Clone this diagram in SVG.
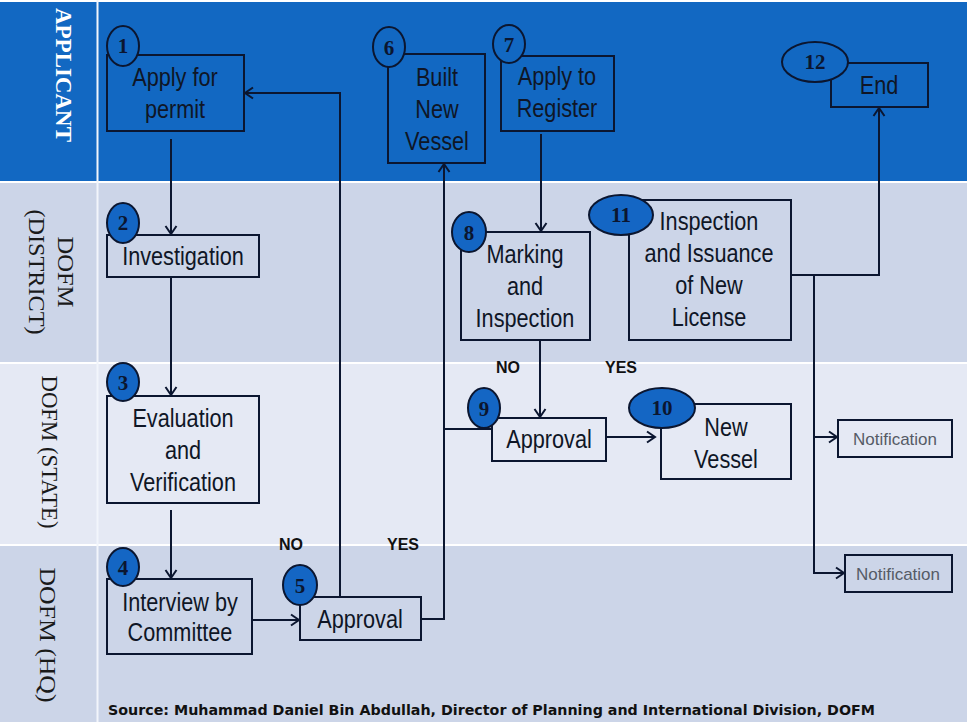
<svg xmlns="http://www.w3.org/2000/svg" width="967" height="722" viewBox="0 0 967 722">
<defs>
<style>
.lane{font-family:"Liberation Serif","Times New Roman",serif;font-size:24px;fill:#1a1a1a;text-anchor:middle}
.t{font-family:"Liberation Sans",Arial,sans-serif;font-size:25.5px;fill:#0f1626;text-anchor:middle}
.nt{font-family:"Liberation Sans",Arial,sans-serif;font-size:17px;fill:#555b66;text-anchor:middle}
.box{fill:none;stroke:#0b1630;stroke-width:2}
.co{fill:#1268c2;stroke:#0b1630;stroke-width:2}
.cf{fill:#1466c4;stroke:#0b1630;stroke-width:2}
.num{font-family:"Liberation Serif","Times New Roman",serif;font-weight:bold;font-size:21px;fill:#0b1630;text-anchor:middle}
.conn{fill:none;stroke:#0b1630;stroke-width:2}
.yn{font-family:"Liberation Sans",Arial,sans-serif;font-weight:bold;font-size:16px;fill:#111}
</style>
<marker id="ah" markerWidth="12" markerHeight="14" refX="10" refY="7" orient="auto" markerUnits="userSpaceOnUse">
<path d="M2,1.5 L10,7 L2,12.5" fill="none" stroke="#0b1630" stroke-width="2"/>
</marker>
</defs>

<!-- lanes -->
<g id="lanes">
<rect x="0" y="0" width="967" height="722" fill="#ffffff"/>
<rect x="0" y="2" width="967" height="179" fill="#1268c2"/>
<rect x="0" y="183" width="967" height="179" fill="#ccd5e8"/>
<rect x="0" y="364" width="967" height="180" fill="#e5e9f4"/>
<rect x="0" y="546" width="967" height="176" fill="#ccd5e8"/>
<line x1="97.5" y1="0" x2="97.5" y2="722" stroke="#f2f5fb" stroke-width="2"/>
<text class="lane" transform="translate(56,75) rotate(90)" style="fill:#ffffff;font-weight:bold" font-size="23" textLength="134" lengthAdjust="spacingAndGlyphs">APPLICANT</text>
<text class="lane" transform="translate(58,272) rotate(90)" textLength="71" lengthAdjust="spacingAndGlyphs">DOFM</text>
<text class="lane" transform="translate(29,272) rotate(90)" textLength="125" lengthAdjust="spacingAndGlyphs">(DISTRICT)</text>
<text class="lane" transform="translate(42,452) rotate(90)" textLength="153" lengthAdjust="spacingAndGlyphs">DOFM (STATE)</text>
<text class="lane" transform="translate(40,635) rotate(90)" textLength="135" lengthAdjust="spacingAndGlyphs">DOFM (HQ)</text>
</g>

<!-- connectors -->
<g id="connectors">
<line class="conn" x1="171" y1="139" x2="171" y2="234" marker-end="url(#ah)"/>
<line class="conn" x1="171" y1="278" x2="171" y2="395" marker-end="url(#ah)"/>
<line class="conn" x1="171" y1="510" x2="171" y2="578" marker-end="url(#ah)"/>
<line class="conn" x1="253" y1="620" x2="299" y2="620" marker-end="url(#ah)"/>
<polyline class="conn" points="340,597 340,93 245,93" marker-end="url(#ah)"/>
<polyline class="conn" points="421,619 444,619 444,164" marker-end="url(#ah)"/>
<line class="conn" x1="444" y1="429" x2="492" y2="429"/>
<line class="conn" x1="541" y1="134" x2="541" y2="231" marker-end="url(#ah)"/>
<line class="conn" x1="540" y1="341" x2="540" y2="417" marker-end="url(#ah)"/>
<line class="conn" x1="607" y1="437" x2="655" y2="437" marker-end="url(#ah)"/>
<polyline class="conn" points="792,275 879,275 879,108" marker-end="url(#ah)"/>
<polyline class="conn" points="814,275 814,573 844,573" marker-end="url(#ah)"/>
<line class="conn" x1="814" y1="437" x2="837" y2="437" marker-end="url(#ah)"/>
<text class="yn" x="279" y="550">NO</text>
<text class="yn" x="387" y="550">YES</text>
<text class="yn" x="496" y="373">NO</text>
<text class="yn" x="605" y="373">YES</text>
</g>

<!-- nodes -->
<g id="n1">
<rect class="box" x="107" y="55" width="137" height="76"/>
<text class="t" transform="scale(0.85,1)" x="205.88" y="86">Apply for</text>
<text class="t" transform="scale(0.85,1)" x="205.88" y="118">permit</text>
<ellipse class="co" cx="123" cy="46" rx="16" ry="20"/>
<text class="num" x="123" y="53">1</text>
</g>
<g id="n2">
<rect class="box" x="107" y="235" width="152" height="42"/>
<text class="t" transform="scale(0.85,1)" x="215.29" y="265">Investigation</text>
<ellipse class="cf" cx="123" cy="223" rx="16" ry="20"/>
<text class="num" x="123" y="230">2</text>
</g>
<g id="n3">
<rect class="box" x="107" y="396" width="152" height="107"/>
<text class="t" transform="scale(0.85,1)" x="215.29" y="427">Evaluation</text>
<text class="t" transform="scale(0.85,1)" x="215.29" y="459">and</text>
<text class="t" transform="scale(0.85,1)" x="215.29" y="491">Verification</text>
<ellipse class="cf" cx="123" cy="382" rx="16" ry="19"/>
<text class="num" x="123" y="390">3</text>
</g>
<g id="n4">
<rect class="box" x="107" y="579" width="145" height="75"/>
<text class="t" transform="scale(0.85,1)" x="211.76" y="611">Interview by</text>
<text class="t" transform="scale(0.85,1)" x="211.76" y="641">Committee</text>
<ellipse class="cf" cx="123" cy="567" rx="16" ry="19"/>
<text class="num" x="123" y="575">4</text>
</g>
<g id="n5">
<rect class="box" x="300" y="597" width="121" height="43"/>
<text class="t" transform="scale(0.85,1)" x="423.53" y="628">Approval</text>
<ellipse class="cf" cx="300" cy="585" rx="17" ry="20"/>
<text class="num" x="300" y="593">5</text>
</g>
<g id="n6">
<rect class="box" x="388" y="54" width="97" height="109"/>
<text class="t" transform="scale(0.85,1)" x="514.12" y="86">Built</text>
<text class="t" transform="scale(0.85,1)" x="514.12" y="118">New</text>
<text class="t" transform="scale(0.85,1)" x="514.12" y="150">Vessel</text>
<ellipse class="co" cx="389" cy="47" rx="16" ry="20"/>
<text class="num" x="389" y="55">6</text>
</g>
<g id="n7">
<rect class="box" x="501" y="56" width="113" height="75"/>
<text class="t" transform="scale(0.85,1)" x="655.29" y="85">Apply to</text>
<text class="t" transform="scale(0.85,1)" x="655.29" y="117">Register</text>
<ellipse class="co" cx="509" cy="44" rx="16" ry="19"/>
<text class="num" x="509" y="52">7</text>
</g>
<g id="n8">
<rect class="box" x="461" y="232" width="129" height="108"/>
<text class="t" transform="scale(0.85,1)" x="617.65" y="263">Marking</text>
<text class="t" transform="scale(0.85,1)" x="617.65" y="295">and</text>
<text class="t" transform="scale(0.85,1)" x="617.65" y="327">Inspection</text>
<ellipse class="cf" cx="469" cy="232" rx="17" ry="20"/>
<text class="num" x="469" y="240">8</text>
</g>
<g id="n9">
<rect class="box" x="492" y="418" width="114" height="43"/>
<text class="t" transform="scale(0.85,1)" x="645.88" y="448">Approval</text>
<ellipse class="cf" cx="484" cy="408" rx="16" ry="20"/>
<text class="num" x="484" y="416">9</text>
</g>
<g id="n10">
<rect class="box" x="661" y="404" width="130" height="75"/>
<text class="t" transform="scale(0.85,1)" x="854.12" y="436">New</text>
<text class="t" transform="scale(0.85,1)" x="854.12" y="468">Vessel</text>
<ellipse class="cf" cx="662" cy="408" rx="33" ry="20"/>
<text class="num" x="662" y="415">10</text>
</g>
<g id="n11">
<rect class="box" x="629" y="200" width="162" height="140"/>
<text class="t" transform="scale(0.85,1)" x="834.12" y="230">Inspection</text>
<text class="t" transform="scale(0.85,1)" x="834.12" y="262">and Issuance</text>
<text class="t" transform="scale(0.85,1)" x="834.12" y="294">of New</text>
<text class="t" transform="scale(0.85,1)" x="834.12" y="326">License</text>
<ellipse class="cf" cx="621" cy="215" rx="32" ry="20"/>
<text class="num" x="621" y="222">11</text>
</g>
<g id="n12">
<rect class="box" x="831" y="63" width="97" height="44"/>
<text class="t" transform="scale(0.85,1)" x="1034.12" y="94">End</text>
<ellipse class="co" cx="815" cy="62" rx="33" ry="20"/>
<text class="num" x="815" y="69">12</text>
</g>
<g id="notif1">
<rect class="box" x="838" y="420" width="114" height="37"/>
<text class="nt" x="895" y="445">Notification</text>
</g>
<g id="notif2">
<rect class="box" x="845" y="555" width="107" height="37"/>
<text class="nt" x="898" y="580">Notification</text>
</g>

<text x="108" y="715" font-family="'DejaVu Sans',Verdana,sans-serif" font-weight="bold" font-size="14" fill="#111" textLength="767" lengthAdjust="spacingAndGlyphs">Source: Muhammad Daniel Bin Abdullah, Director of Planning and International Division, DOFM</text>
</svg>
